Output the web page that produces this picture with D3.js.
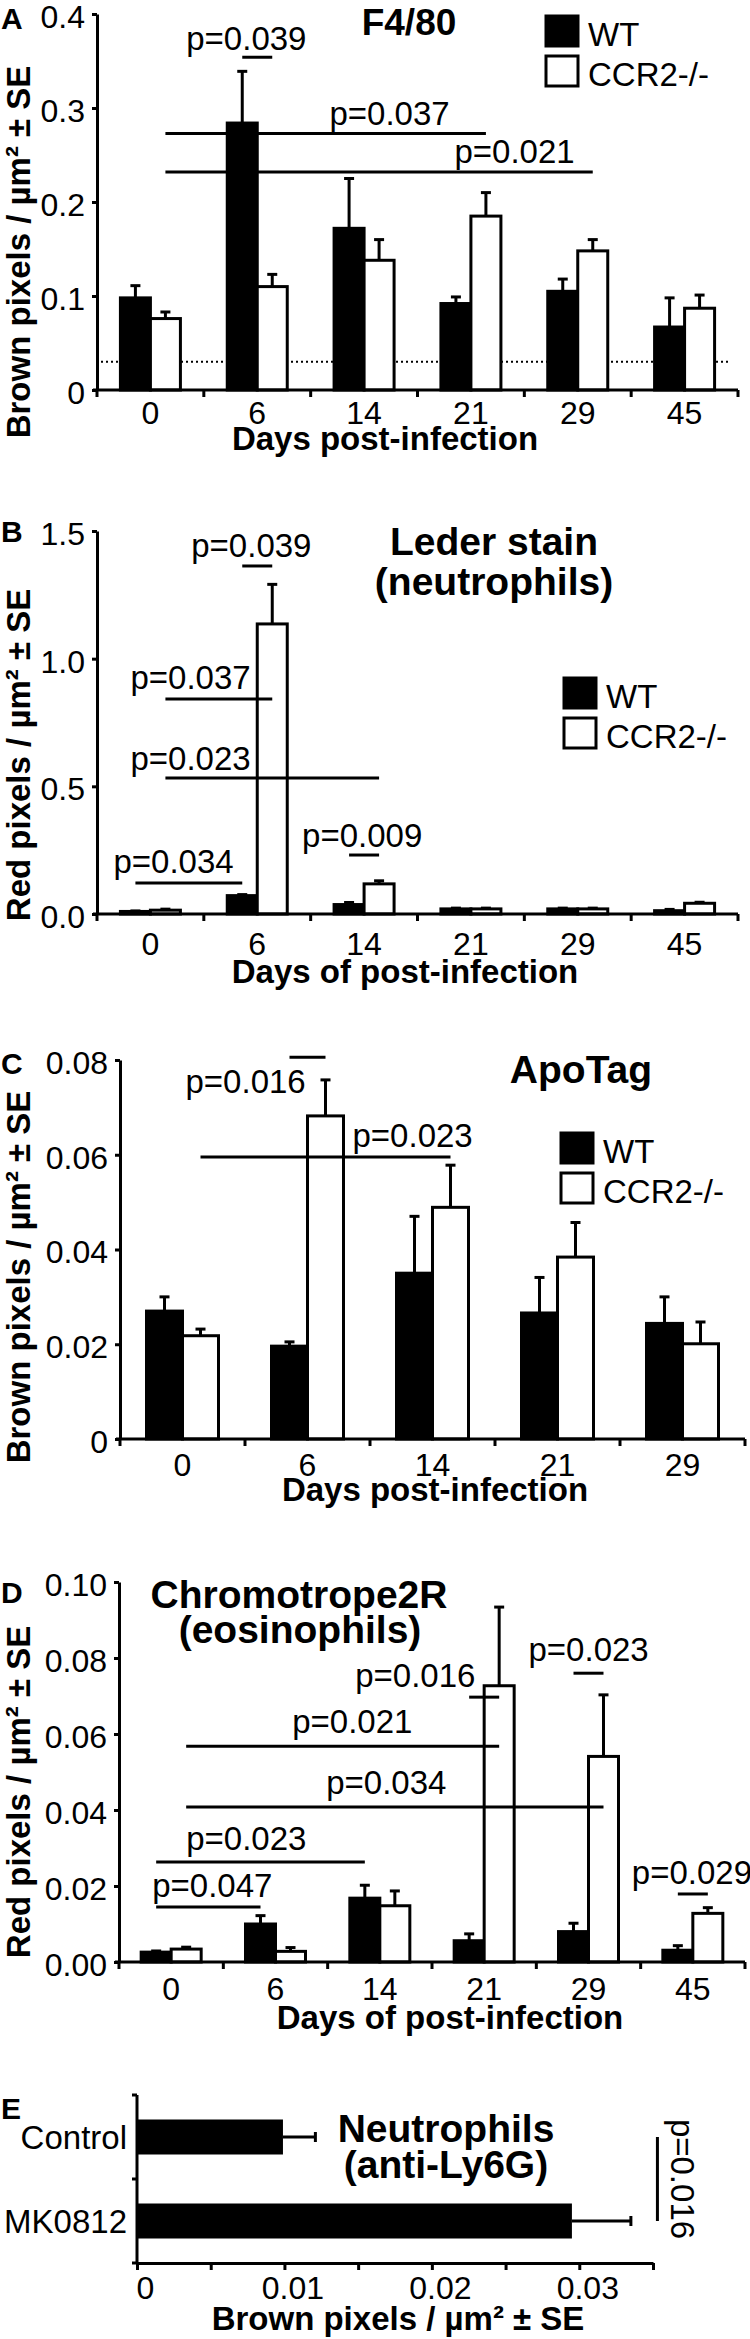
<!DOCTYPE html>
<html>
<head>
<meta charset="utf-8">
<script src="https://cdn.jsdelivr.net/npm/d3@7"></script>
<style>
  body { margin: 0; background: #fff; }
  svg text { font-family: "Liberation Sans", Arial, Helvetica, sans-serif; fill: #000; }
</style>
</head>
<body>
<div id="chart"></div>
<script>
// series shared by panels A-D
var series = ['WT', 'CCR2-/-'];

// A: F4/80
var daysA = ['0', '6', '14', '21', '29', '45'];
var wtA = [0.098, 0.284, 0.172, 0.092, 0.105, 0.067];
var wtSeA = [0.013, 0.055, 0.053, 0.007, 0.013, 0.031];
var koA = [0.076, 0.110, 0.138, 0.185, 0.148, 0.087];
var koSeA = [0.007, 0.013, 0.022, 0.025, 0.012, 0.014];
var yTicksA = [0, 0.1, 0.2, 0.3, 0.4];
var yTickLabelsA = ['0', '0.1', '0.2', '0.3', '0.4'];
var baselineA = 0.03;
var sigA = [
    { label: 'p=0.039', from: ['6', 0], to: ['6', 1], y: 0.354 },
    { label: 'p=0.037', from: ['0', 1], to: ['21', 1], y: 0.273 },
    { label: 'p=0.021', from: ['0', 1], to: ['29', 1], y: 0.232 }
];

// B: Leder stain
var daysB = ['0', '6', '14', '21', '29', '45'];
var wtB = [0.010, 0.072, 0.037, 0.020, 0.020, 0.013];
var wtSeB = [0.002, 0.004, 0.008, 0.003, 0.003, 0.005];
var koB = [0.015, 1.136, 0.118, 0.020, 0.020, 0.042];
var koSeB = [0.004, 0.155, 0.012, 0.003, 0.003, 0.004];
var yTicksB = [0, 0.5, 1.0, 1.5];
var yTickLabelsB = ['0.0', '0.5', '1.0', '1.5'];
var sigB = [
    { label: 'p=0.039', from: ['6', 0], to: ['6', 1], y: 1.363 },
    { label: 'p=0.037', from: ['0', 1], to: ['6', 1], y: 0.842 },
    { label: 'p=0.023', from: ['0', 1], to: ['14', 1], y: 0.533 },
    { label: 'p=0.009', from: ['14', 0], to: ['14', 1], y: 0.231 },
    { label: 'p=0.034', from: ['0', 0], to: ['6', 0], y: 0.121 }
];

// C: ApoTag
var daysC = ['0', '6', '14', '21', '29'];
var wtC = [0.0270, 0.0196, 0.0350, 0.0266, 0.0244];
var wtSeC = [0.0030, 0.0009, 0.0120, 0.0075, 0.0056];
var koC = [0.0218, 0.0682, 0.0489, 0.0384, 0.0201];
var koSeC = [0.0014, 0.0076, 0.0089, 0.0073, 0.0046];
var yTicksC = [0, 0.02, 0.04, 0.06, 0.08];
var yTickLabelsC = ['0', '0.02', '0.04', '0.06', '0.08'];
var sigC = [
    { label: 'p=0.016', from: ['6', 0], to: ['6', 1], y: 0.0806 },
    { label: 'p=0.023', from: ['0', 1], to: ['14', 1], y: 0.0595 }
];

// D: Chromotrope2R
var daysD = ['0', '6', '14', '21', '29', '45'];
var wtD = [0.0026, 0.0100, 0.0168, 0.0056, 0.0080, 0.0031];
var wtSeD = [0.0003, 0.0022, 0.0034, 0.0018, 0.0022, 0.0012];
var koD = [0.0034, 0.0028, 0.0148, 0.0727, 0.0541, 0.0128];
var koSeD = [0.0005, 0.0010, 0.0039, 0.0207, 0.0162, 0.0015];
var yTicksD = [0, 0.02, 0.04, 0.06, 0.08, 0.10];
var yTickLabelsD = ['0.00', '0.02', '0.04', '0.06', '0.08', '0.10'];
var sigD = [
    { label: 'p=0.016', from: ['21', 0], to: ['21', 1], y: 0.0697 },
    { label: 'p=0.023', from: ['29', 0], to: ['29', 1], y: 0.0760 },
    { label: 'p=0.021', from: ['0', 1], to: ['21', 1], y: 0.0568 },
    { label: 'p=0.034', from: ['0', 1], to: ['29', 1], y: 0.0408 },
    { label: 'p=0.023', from: ['0', 0], to: ['14', 0], y: 0.0263 },
    { label: 'p=0.047', from: ['0', 0], to: ['6', 0], y: 0.0145 },
    { label: 'p=0.029', from: ['45', 0], to: ['45', 1], y: 0.0179 }
];

// E: Neutrophils (anti-Ly6G)
var groupsE = ['Control', 'MK0812'];
var valuesE = [0.0099, 0.0295];
var seE = [0.0022, 0.0040];
var xTicksE = [0, 0.005, 0.01, 0.015, 0.02, 0.025, 0.03, 0.035];
var xTickLabelsE = ['0', '', '0.01', '', '0.02', '', '0.03', ''];
var sigE = { label: 'p=0.016', x: 0.0353 };

var svg = d3.select('#chart').append('svg')
    .attr('width', 750)
    .attr('height', 2339)
    .style('background', '#fff');

function addText(g, t, x, y, size, bold, anchor) {
    return g.append('text')
        .attr('x', x).attr('y', y)
        .attr('text-anchor', anchor || 'middle')
        .style('font-size', size + 'px')
        .style('font-weight', bold ? 'bold' : 'normal')
        .text(t);
}

//grouped bar panel (A-D)
function drawPanel(cfg) {
    var g = svg.append('g');
    var x0 = d3.scaleBand().domain(cfg.days).range(cfg.xRange);
    var bw = x0.bandwidth();
    var x1 = d3.scaleBand().domain([0, 1]).range([bw / 2 - cfg.barW, bw / 2 + cfg.barW]);
    var y = d3.scaleLinear().domain([0, cfg.yTicks[cfg.yTicks.length - 1]]).range(cfg.yRange);
    var cx = function(day, s) { return x0(day) + x1(s) + x1.bandwidth() / 2; };

    var rows = [];
    cfg.days.forEach(function(day, i) {
        rows.push({ day: day, s: 0, v: cfg.wt[i], se: cfg.wtSe[i] });
        rows.push({ day: day, s: 1, v: cfg.ko[i], se: cfg.koSe[i] });
    });

    // dotted background level
    if (cfg.baseline !== undefined) {
        g.append('line')
            .attr('x1', cfg.xRange[0] - 1).attr('x2', cfg.xRange[1] - 7)
            .attr('y1', y(cfg.baseline)).attr('y2', y(cfg.baseline))
            .style('stroke', '#000').style('stroke-width', 2)
            .style('stroke-dasharray', '2,3');
    }

    // error bars first, bars on top
    g.selectAll('line.err').data(rows).enter().append('line')
        .attr('x1', function(d) { return cx(d.day, d.s); })
        .attr('x2', function(d) { return cx(d.day, d.s); })
        .attr('y1', function(d) { return y(d.v); })
        .attr('y2', function(d) { return y(d.v + d.se); })
        .style('stroke', '#000').style('stroke-width', 3);
    g.selectAll('line.cap').data(rows).enter().append('line')
        .attr('x1', function(d) { return cx(d.day, d.s) - 5; })
        .attr('x2', function(d) { return cx(d.day, d.s) + 5; })
        .attr('y1', function(d) { return y(d.v + d.se); })
        .attr('y2', function(d) { return y(d.v + d.se); })
        .style('stroke', '#000').style('stroke-width', 3);

    g.selectAll('rect.bar').data(rows).enter().append('rect')
        .attr('x', function(d) { return x0(d.day) + x1(d.s); })
        .attr('y', function(d) { return y(d.v); })
        .attr('width', x1.bandwidth())
        .attr('height', function(d) { return y(0) - y(d.v); })
        .style('fill', function(d) { return d.s ? '#fff' : '#000'; })
        .style('stroke', '#000').style('stroke-width', 3);

    // significance brackets
    cfg.sig.forEach(function(s, i) {
        var xa = cx(s.from[0], s.from[1]);
        var xb = cx(s.to[0], s.to[1]);
        g.append('line')
            .attr('x1', xa).attr('x2', xb)
            .attr('y1', y(s.y)).attr('y2', y(s.y))
            .style('stroke', '#000').style('stroke-width', 3);
        var off = cfg.sigOffsets[i];
        addText(g, s.label, xa + off[0], y(s.y) - off[1], 33, false, 'start');
    });

    // y axis
    var yAxis = g.append('g')
        .attr('transform', 'translate(' + cfg.xRange[0] + ',0)')
        .call(d3.axisLeft(y)
            .tickValues(cfg.yTicks)
            .tickFormat(function(d, i) { return cfg.yTickLabels[i]; })
            .tickSize(5).tickSizeOuter(0).tickPadding(7));
    yAxis.select('.domain').style('stroke-width', 3);
    yAxis.selectAll('.tick line').style('stroke-width', 3);
    yAxis.selectAll('.tick text').style('font-size', '32px')
        .style('font-family', '"Liberation Sans", Arial, sans-serif').attr('dy', '0.42em');

    // x axis with ticks between groups
    var y0 = y(0);
    g.append('line')
        .attr('x1', cfg.xRange[0] - 4).attr('x2', cfg.xRange[1])
        .attr('y1', y0).attr('y2', y0)
        .style('stroke', '#000').style('stroke-width', 3);
    var bounds = cfg.days.map(function(d) { return x0(d); }).concat([cfg.xRange[1]]);
    g.selectAll('line.xt').data(bounds).enter().append('line')
        .attr('x1', function(d) { return d; }).attr('x2', function(d) { return d; })
        .attr('y1', y0).attr('y2', y0 + 7)
        .style('stroke', '#000').style('stroke-width', 3);
    g.selectAll('text.xl').data(cfg.days).enter().append('text')
        .attr('x', function(d) { return x0(d) + bw / 2; })
        .attr('y', cfg.xLabelY)
        .attr('text-anchor', 'middle')
        .style('font-size', '32px')
        .text(function(d) { return d; });

    addText(g, cfg.xTitle, cfg.xTitlePos[0], cfg.xTitlePos[1], 33, true);
    addText(g, cfg.yTitle, 0, 0, 33, true)
        .attr('transform', 'translate(' + cfg.yTitlePos[0] + ',' + cfg.yTitlePos[1] + ') rotate(-90)');
    addText(g, cfg.letter, 1, cfg.letterY, 30, true, 'start');
    cfg.titles.forEach(function(t) { addText(g, t[0], t[1], t[2], t[3] || 39, true); });

    // legend
    if (cfg.legend) {
        series.forEach(function(name, i) {
            var ly = cfg.legend[1] + i * 40;
            g.append('rect')
                .attr('x', cfg.legend[0]).attr('y', ly)
                .attr('width', 32).attr('height', 30)
                .style('fill', i ? '#fff' : '#000')
                .style('stroke', '#000').style('stroke-width', 3);
            addText(g, name, cfg.legend[0] + 42, ly + 30, 33, false, 'start');
        });
    }
}

drawPanel({
    days: daysA, wt: wtA, wtSe: wtSeA, ko: koA, koSe: koSeA,
    yTicks: yTicksA, yTickLabels: yTickLabelsA, sig: sigA, baseline: baselineA,
    xRange: [97, 738], yRange: [390, 14], barW: 30, xLabelY: 424,
    sigOffsets: [[-56, 7], [164, 8], [289, 9]],
    xTitle: 'Days post-infection', xTitlePos: [385, 450],
    yTitle: 'Brown pixels / µm² ± SE', yTitlePos: [30, 252],
    letter: 'A', letterY: 29,
    titles: [['F4/80', 409, 35, 37]],
    legend: [546, 16]
});

drawPanel({
    days: daysB, wt: wtB, wtSe: wtSeB, ko: koB, koSe: koSeB,
    yTicks: yTicksB, yTickLabels: yTickLabelsB, sig: sigB,
    xRange: [97, 738], yRange: [914, 531], barW: 30, xLabelY: 955,
    sigOffsets: [[-51, 9], [-35, 10], [-35, 8], [-47, 8], [-22, 10]],
    xTitle: 'Days of post-infection', xTitlePos: [405, 983],
    yTitle: 'Red pixels / µm² ± SE', yTitlePos: [30, 755],
    letter: 'B', letterY: 542,
    titles: [['Leder stain', 494, 555], ['(neutrophils)', 494, 595]],
    legend: [564, 678]
});

drawPanel({
    days: daysC, wt: wtC, wtSe: wtSeC, ko: koC, koSe: koSeC,
    yTicks: yTicksC, yTickLabels: yTickLabelsC, sig: sigC,
    xRange: [120, 745], yRange: [1439, 1060], barW: 36, xLabelY: 1476,
    sigOffsets: [[-104, -36], [152, 10]],
    xTitle: 'Days post-infection', xTitlePos: [435, 1501],
    yTitle: 'Brown pixels / µm² ± SE', yTitlePos: [30, 1277],
    letter: 'C', letterY: 1074,
    titles: [['ApoTag', 581, 1083]],
    legend: [561, 1133]
});

drawPanel({
    days: daysD, wt: wtD, wtSe: wtSeD, ko: koD, koSe: koSeD,
    yTicks: yTicksD, yTickLabels: yTickLabelsD, sig: sigD,
    xRange: [119, 745], yRange: [1962, 1582], barW: 30, xLabelY: 2000,
    sigOffsets: [[-114, 10], [-45, 12], [106, 13], [140, 13], [30, 12], [-4, 10], [-46, 10]],
    xTitle: 'Days of post-infection', xTitlePos: [450, 2029],
    yTitle: 'Red pixels / µm² ± SE', yTitlePos: [30, 1792],
    letter: 'D', letterY: 1603,
    titles: [['Chromotrope2R', 299, 1608], ['(eosinophils)', 300, 1643]]
});

//panel E, horizontal bars
(function() {
    var g = svg.append('g');
    var x = d3.scaleLinear().domain([0, 0.035]).range([137, 653]);
    var y = d3.scaleBand().domain(groupsE).range([2095, 2263]);
    var barH = 35;
    var cy = function(d) { return y(d) + y.bandwidth() / 2; };

    g.selectAll('line.err').data(groupsE).enter().append('line')
        .attr('x1', function(d, i) { return x(valuesE[i]); })
        .attr('x2', function(d, i) { return x(valuesE[i] + seE[i]); })
        .attr('y1', cy).attr('y2', cy)
        .style('stroke', '#000').style('stroke-width', 3);
    g.selectAll('line.cap').data(groupsE).enter().append('line')
        .attr('x1', function(d, i) { return x(valuesE[i] + seE[i]); })
        .attr('x2', function(d, i) { return x(valuesE[i] + seE[i]); })
        .attr('y1', function(d) { return cy(d) - 5; })
        .attr('y2', function(d) { return cy(d) + 5; })
        .style('stroke', '#000').style('stroke-width', 3);
    g.selectAll('rect.bar').data(groupsE).enter().append('rect')
        .attr('x', x(0))
        .attr('y', function(d) { return cy(d) - barH / 2; })
        .attr('width', function(d, i) { return x(valuesE[i]) - x(0); })
        .attr('height', barH)
        .style('fill', '#000');

    // category axis
    var yAxis = g.append('g').attr('transform', 'translate(' + x(0) + ',0)');
    yAxis.append('line')
        .attr('x1', 0).attr('x2', 0).attr('y1', y.range()[0]).attr('y2', y.range()[1])
        .style('stroke', '#000').style('stroke-width', 3);
    var yb = groupsE.map(function(d) { return y(d); }).concat([y.range()[1]]);
    yAxis.selectAll('line.t').data(yb).enter().append('line')
        .attr('x1', -5).attr('x2', 0)
        .attr('y1', function(d) { return d; }).attr('y2', function(d) { return d; })
        .style('stroke', '#000').style('stroke-width', 3);
    g.selectAll('text.cat').data(groupsE).enter().append('text')
        .attr('x', 127)
        .attr('y', function(d) { return cy(d) + 12; })
        .attr('text-anchor', 'end')
        .style('font-size', '33px')
        .text(function(d) { return d; });

    // value axis
    var xAxis = g.append('g')
        .attr('transform', 'translate(0,' + y.range()[1] + ')')
        .call(d3.axisBottom(x)
            .tickValues(xTicksE)
            .tickFormat(function(d, i) { return xTickLabelsE[i]; })
            .tickSize(7).tickSizeOuter(0).tickPadding(6));
    xAxis.select('.domain').style('stroke-width', 3);
    xAxis.selectAll('.tick line').style('stroke-width', 3);
    xAxis.selectAll('.tick text').style('font-size', '32px')
        .style('font-family', '"Liberation Sans", Arial, sans-serif').attr('dx', 8);

    addText(g, 'Brown pixels / µm² ± SE', 398, 2330, 33, true);
    addText(g, 'E', 1, 2119, 30, true, 'start');
    addText(g, 'Neutrophils', 446, 2142, 39, true);
    addText(g, '(anti-Ly6G)', 446, 2178, 39, true);

    g.append('line')
        .attr('x1', x(sigE.x)).attr('x2', x(sigE.x))
        .attr('y1', cy(groupsE[0])).attr('y2', cy(groupsE[1]))
        .style('stroke', '#000').style('stroke-width', 3);
    addText(g, sigE.label, 0, 0, 33, false)
        .attr('transform', 'translate(' + (x(sigE.x) + 14) + ',' + ((cy(groupsE[0]) + cy(groupsE[1])) / 2) + ') rotate(90)');
})();
</script>
</body>
</html>
